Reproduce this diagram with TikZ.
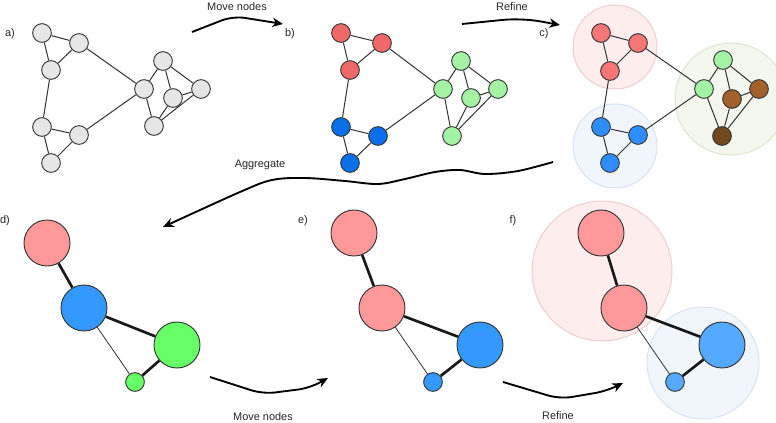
\documentclass[tikz,border=0pt]{standalone}
\usepackage{fontspec}
\setmainfont{Liberation Sans}
\usetikzlibrary{arrows.meta}
\definecolor{gfill}{HTML}{E6E6E6}
\definecolor{bred}{HTML}{F06868}
\definecolor{bblue}{HTML}{0A70EA}
\definecolor{bgreen}{HTML}{A4F2A4}
\definecolor{cred}{HTML}{F57676}
\definecolor{cblue}{HTML}{2E8EFF}
\definecolor{cbrown}{HTML}{A2602C}
\definecolor{cdbrown}{HTML}{72491F}
\definecolor{dred}{HTML}{FF9999}
\definecolor{dblue}{HTML}{3399FF}
\definecolor{dgreen}{HTML}{66FF66}
\definecolor{fblue}{HTML}{55AAFF}
\definecolor{clrfill}{HTML}{FDEDED}
\definecolor{clrdraw}{HTML}{EDCFCF}
\definecolor{clbfill}{HTML}{F1F6FC}
\definecolor{clbdraw}{HTML}{D9E3F1}
\definecolor{clgfill}{HTML}{F3F7EE}
\definecolor{clgdraw}{HTML}{D9E6D0}
\definecolor{edgec}{HTML}{333333}
\begin{document}
\begin{tikzpicture}[x=0.75pt,y=-0.75pt,
  every node/.style={font=\fontsize{8.2pt}{10pt}\selectfont, text=black!85},
  sn/.style={circle,draw=edgec,line width=0.7pt,inner sep=0pt,minimum size=14pt},
  ln/.style={circle,draw=edgec,line width=0.7pt,inner sep=0pt,minimum size=34.5pt},
  mn/.style={circle,draw=edgec,line width=0.7pt,inner sep=0pt,minimum size=14pt},
  edge/.style={draw=edgec,line width=0.75pt},
  thin/.style={draw=edgec,line width=0.6pt},
  thk/.style={draw=black!90,line width=2pt},
  flow/.style={draw=black,line width=1.4pt,-{Stealth[length=8pt,width=7pt,inset=2.5pt]}},
  cluster/.style={circle,inner sep=0pt,line width=0.75pt}
]
\useasboundingbox (0,0) rectangle (776,422);
\clip (0,0) rectangle (776,422);

% ---------- cluster backgrounds ----------
\node[cluster,fill=clrfill,draw=clrdraw,minimum size=63pt] (ccr) at (615,47) {};
\node[cluster,fill=clbfill,draw=clbdraw,minimum size=63pt] (ccb) at (615,146) {};
\node[cluster,fill=clgfill,draw=clgdraw,minimum size=84pt] (ccg) at (731,99) {};
\node[cluster,fill=clrfill,draw=clrdraw,minimum size=105pt] (fcr) at (602,271) {};
\node[cluster,fill=clbfill,draw=clbdraw,minimum size=84pt] (fcb) at (703,363) {};

% ---------- panel a ----------
\node[sn,fill=gfill] (a1) at (42,33) {};
\node[sn,fill=gfill] (a2) at (79,43) {};
\node[sn,fill=gfill] (a3) at (51,70) {};
\node[sn,fill=gfill] (a4) at (42,127) {};
\node[sn,fill=gfill] (a5) at (79,135) {};
\node[sn,fill=gfill] (a6) at (51,163) {};
\node[sn,fill=gfill] (a7) at (144,89) {};
\node[sn,fill=gfill] (a8) at (163,61) {};
\node[sn,fill=gfill] (a9) at (173,98) {};
\node[sn,fill=gfill] (a10) at (201,89) {};
\node[sn,fill=gfill] (a11) at (154,126) {};

% ---------- panel b ----------
\node[sn,fill=bred] (b1) at (341,33) {};
\node[sn,fill=bred] (b2) at (382,43) {};
\node[sn,fill=bred] (b3) at (350,70) {};
\node[sn,fill=bblue] (b4) at (341,127) {};
\node[sn,fill=bblue] (b5) at (378,136) {};
\node[sn,fill=bblue] (b6) at (350,163) {};
\node[sn,fill=bgreen] (b7) at (443,89) {};
\node[sn,fill=bgreen] (b8) at (461,61) {};
\node[sn,fill=bgreen] (b9) at (471,98) {};
\node[sn,fill=bgreen] (b10) at (498,89) {};
\node[sn,fill=bgreen] (b11) at (452,136) {};

% ---------- panel c ----------
\node[sn,fill=cred] (c1) at (601,33) {};
\node[sn,fill=cred] (c2) at (638,43) {};
\node[sn,fill=cred] (c3) at (610,71) {};
\node[sn,fill=cblue] (c4) at (601,127) {};
\node[sn,fill=cblue] (c5) at (638,135) {};
\node[sn,fill=cblue] (c6) at (610,163) {};
\node[sn,fill=bgreen] (c7) at (704,89) {};
\node[sn,fill=bgreen] (c8) at (723,60) {};
\node[sn,fill=cbrown] (c9) at (732,99) {};
\node[sn,fill=cbrown] (c10) at (759,89) {};
\node[sn,fill=cdbrown] (c11) at (722,136) {};

\foreach \p in {a,b,c}{
  \foreach \u/\v in {1/2,1/3,2/3,2/7,3/4,4/5,4/6,5/6,5/7,7/8,7/11,8/9,8/10,9/10,9/11,10/11}{
    \draw[edge] (\p\u) -- (\p\v);
  }
}

% ---------- panel d ----------
\node[ln,fill=dred] (d1) at (47,243) {};
\node[ln,fill=dblue] (d2) at (84,308) {};
\node[ln,fill=dgreen] (d3) at (177,345) {};
\node[mn,fill=dgreen] (d4) at (135,382) {};
\draw[thk] (d1) -- (d2);
\draw[thk] (d2) -- (d3);
\draw[thk] (d3) -- (d4);
\draw[thin] (d2) -- (d4);

% ---------- panel e ----------
\node[ln,fill=dred] (e1) at (354,233) {};
\node[ln,fill=dred] (e2) at (382,308) {};
\node[ln,fill=dblue] (e3) at (480,345) {};
\node[mn,fill=dblue] (e4) at (433,382) {};
\draw[thk] (e1) -- (e2);
\draw[thk] (e2) -- (e3);
\draw[thk] (e3) -- (e4);
\draw[thin] (e2) -- (e4);

% ---------- panel f ----------
\node[ln,fill=dred] (f1) at (601,233) {};
\node[ln,fill=dred] (f2) at (624,308) {};
\node[ln,fill=fblue] (f3) at (722,345) {};
\node[mn,fill=fblue] (f4) at (675,382) {};
\draw[thk] (f1) -- (f2);
\draw[thk] (f2) -- (f3);
\draw[thk] (f3) -- (f4);
\draw[thin] (f2) -- (f4);

% ---------- panel labels ----------
\node (la) at (10,34) {a)};
\node (lb) at (290,34) {b)};
\node (lc) at (544,34) {c)};
\node (ld) at (5,221) {d)};
\node (le) at (303,221) {e)};
\node (lf) at (513,221) {f)};

% ---------- flow arrows ----------
\coordinate (m1s) at (192,32);
\coordinate (m1e) at (283,24);
\draw[flow,rounded corners=9pt] (m1s) -- (233,16) -- (m1e);
\node (m1t) at (237,7) {Move nodes};

\coordinate (r1s) at (462,24);
\coordinate (r1e) at (560,25);
\draw[flow,rounded corners=14pt] (r1s) -- (522,18) -- (r1e);
\node (r1t) at (512,7) {Refine};

\coordinate (ags) at (553,162);
\coordinate (age) at (163,227);
\draw[flow] plot[smooth,tension=0.55] coordinates {(ags) (518,171) (485,174) (460,170) (435,172) (405,179) (378,184) (345,181) (305,178) (272,180) (240,192) (age)};
\node (agt) at (260,165) {Aggregate};

\coordinate (m2s) at (210,377);
\coordinate (m2e) at (328,378);
\draw[flow,rounded corners=9pt] (m2s) -- (263,394) -- (310,388) -- (m2e);
\node (m2t) at (263,417) {Move nodes};

\coordinate (r2s) at (503,382);
\coordinate (r2e) at (623,383);
\draw[flow,rounded corners=9pt] (r2s) -- (560,399) -- (607,391) -- (r2e);
\node (r2t) at (558,416) {Refine};
\end{tikzpicture}
\end{document}
